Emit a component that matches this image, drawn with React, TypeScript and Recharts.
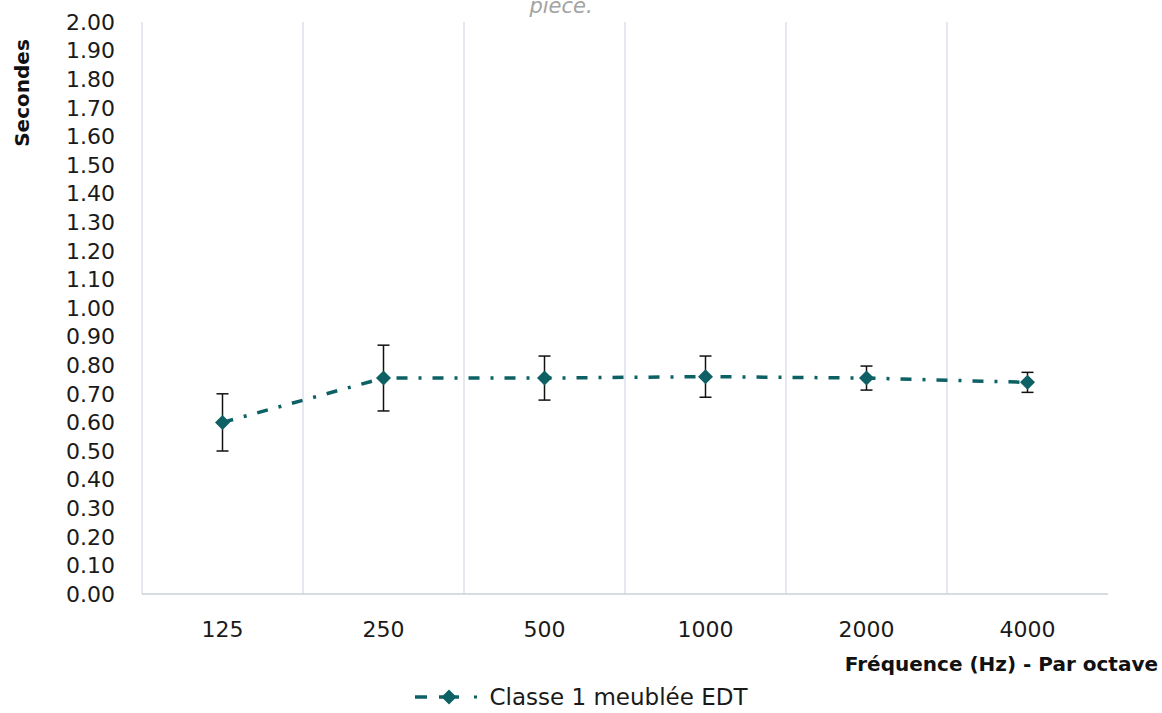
import {
  ComposedChart,
  Line,
  XAxis,
  YAxis,
  CartesianGrid,
  ErrorBar,
  Legend,
} from "recharts";

const categories = ["125", "250", "500", "1000", "2000", "4000"];
const edtValues = [0.6, 0.755, 0.755, 0.76, 0.755, 0.74];
const edtErrors = [0.1, 0.115, 0.077, 0.072, 0.042, 0.035];
const yTicks = [
  0, 0.1, 0.2, 0.3, 0.4, 0.5, 0.6, 0.7, 0.8, 0.9, 1.0, 1.1, 1.2, 1.3, 1.4,
  1.5, 1.6, 1.7, 1.8, 1.9, 2.0,
];
const seriesName = "Classe 1 meublée EDT";

const data = categories.map((freq, i) => ({
  freq,
  edt: edtValues[i],
  err: edtErrors[i],
}));

const TEAL = "#0d6164";
const FONT = "'DejaVu Sans', sans-serif";
const DASH = "11 11 3 11";

function Diamond(props: any) {
  const { cx, cy } = props;
  if (cx == null || cy == null) return null;
  const r = 7.5;
  return (
    <path
      d={`M${cx},${cy - r}L${cx + r},${cy}L${cx},${cy + r}L${cx - r},${cy}Z`}
      fill={TEAL}
      stroke="none"
    />
  );
}

// grid lines sit on the category boundaries, not on the ticks
function boundaryLines(props: any) {
  const { xAxis, offset } = props;
  const scale = xAxis && xAxis.scale;
  if (
    scale &&
    typeof scale === "function" &&
    typeof scale.bandwidth === "function" &&
    scale.bandwidth() > 0
  ) {
    return categories.map((c) => scale(c));
  }
  const step = offset.width / categories.length;
  return categories.map((_, i) => offset.left + i * step);
}

function LegendContent() {
  return (
    <div
      style={{
        height: 30,
        display: "flex",
        alignItems: "center",
        justifyContent: "center",
        fontFamily: FONT,
        fontSize: 23,
        color: "#1a1a1a",
      }}
    >
      <svg width={64} height={20} style={{ marginRight: 11 }}>
        <line x1={0} y1={10} x2={12} y2={10} stroke={TEAL} strokeWidth={3.5} />
        <line x1={24} y1={10} x2={44} y2={10} stroke={TEAL} strokeWidth={3.5} />
        <Diamond cx={34} cy={10} />
        <rect x={59} y={8.5} width={3} height={3} fill={TEAL} />
      </svg>
      <span>{seriesName}</span>
    </div>
  );
}

export default function App() {
  return (
    <div
      style={{
        position: "absolute",
        left: 0,
        top: 0,
        width: 1162,
        height: 713,
        overflow: "hidden",
        background: "#fff",
      }}
    >
      <div
        style={{
          position: "absolute",
          top: -4,
          left: 0,
          width: 1122,
          textAlign: "center",
          fontFamily: FONT,
          fontStyle: "italic",
          fontSize: 21,
          lineHeight: "21px",
          color: "#a3a3a3",
        }}
      >
        pièce.
      </div>
      <div
        style={{
          position: "absolute",
          left: 22,
          top: 93,
          transform: "translate(-50%, -50%) rotate(-90deg)",
          fontFamily: FONT,
          fontWeight: 700,
          fontSize: 20,
          whiteSpace: "nowrap",
          color: "#111",
        }}
      >
        Secondes
      </div>
      <div
        style={{
          position: "absolute",
          right: 4,
          top: 652,
          fontFamily: FONT,
          fontWeight: 700,
          fontSize: 20,
          whiteSpace: "nowrap",
          color: "#111",
        }}
      >
        Fréquence (Hz) - Par octave
      </div>
      <ComposedChart
        width={1162}
        height={713}
        data={data}
        margin={{ top: 22, right: 54, bottom: 49, left: 0 }}
      >
        <CartesianGrid
          horizontal={false}
          stroke="#dde1e8"
          strokeWidth={1.5}
          verticalCoordinatesGenerator={boundaryLines}
        />
        <XAxis
          dataKey="freq"
          scale="band"
          height={40}
          axisLine={{ stroke: "#c9d0d8", strokeWidth: 1.5 }}
          tickLine={false}
          tickMargin={21}
          tick={{ fill: "#1a1a1a", fontSize: 22, fontFamily: FONT }}
        />
        <YAxis
          width={142}
          domain={[0, 2]}
          ticks={yTicks}
          interval={0}
          axisLine={false}
          tickLine={false}
          tickMargin={21}
          tickFormatter={(v: number) => v.toFixed(2)}
          tick={{ fill: "#1a1a1a", fontSize: 22, fontFamily: FONT }}
        />
        <Legend
          verticalAlign="bottom"
          align="center"
          content={<LegendContent />}
          wrapperStyle={{ bottom: 1, left: 0, width: 1162 }}
        />
        <Line
          type="linear"
          dataKey="edt"
          name={seriesName}
          stroke={TEAL}
          strokeWidth={3.5}
          strokeDasharray={DASH}
          dot={<Diamond />}
          activeDot={false}
          isAnimationActive={false}
        >
          <ErrorBar
            dataKey="err"
            direction="y"
            width={6}
            stroke="#111"
            strokeWidth={1.5}
            isAnimationActive={false}
          />
        </Line>
      </ComposedChart>
    </div>
  );
}
